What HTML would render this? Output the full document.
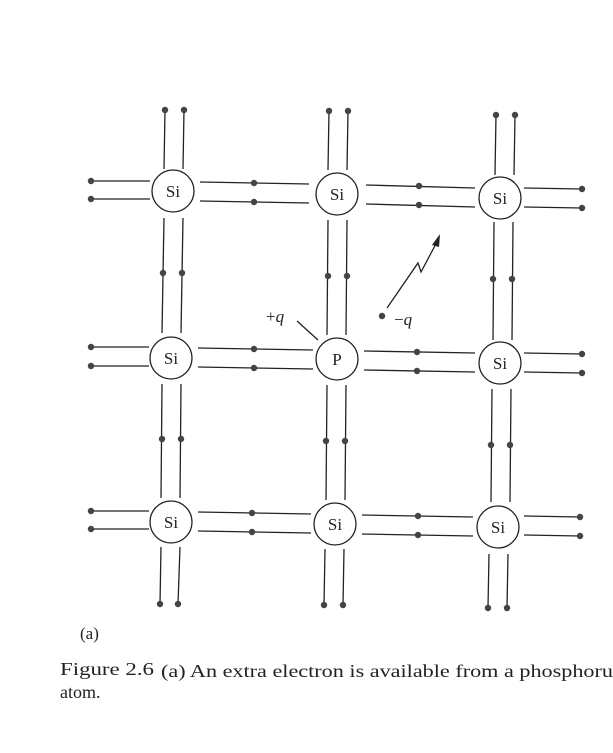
<!DOCTYPE html>
<html><head><meta charset="utf-8"><style>
html,body{margin:0;padding:0;background:#fff;}
svg{display:block}
text{font-family:"Liberation Serif",serif;fill:#222}
</style></head><body>
<svg width="613" height="753" viewBox="0 0 613 753" xmlns="http://www.w3.org/2000/svg">
<g stroke="#222" stroke-width="1.3" fill="none">
<line x1="91" y1="181" x2="150" y2="181"/><line x1="91" y1="199" x2="150" y2="199"/>
<line x1="200" y1="182" x2="309" y2="184"/><line x1="200" y1="201" x2="309" y2="203"/>
<line x1="366" y1="185" x2="475" y2="188"/><line x1="366" y1="204" x2="475" y2="207"/>
<line x1="524" y1="188" x2="582" y2="189"/><line x1="524" y1="207" x2="582" y2="208"/>
<line x1="91" y1="347" x2="149" y2="347"/><line x1="91" y1="366" x2="149" y2="366"/>
<line x1="198" y1="348" x2="313" y2="350"/><line x1="198" y1="367" x2="313" y2="369"/>
<line x1="364" y1="351" x2="475" y2="353"/><line x1="364" y1="370" x2="475" y2="372"/>
<line x1="524" y1="353" x2="582" y2="354"/><line x1="524" y1="372" x2="582" y2="373"/>
<line x1="91" y1="511" x2="149" y2="511"/><line x1="91" y1="529" x2="149" y2="529"/>
<line x1="198" y1="512" x2="311" y2="514"/><line x1="198" y1="531" x2="311" y2="533"/>
<line x1="362" y1="515" x2="473" y2="517"/><line x1="362" y1="534" x2="473" y2="536"/>
<line x1="524" y1="516" x2="580" y2="517"/><line x1="524" y1="535" x2="580" y2="536"/>
<line x1="165" y1="110" x2="164" y2="169"/><line x1="184" y1="110" x2="183" y2="169"/>
<line x1="164" y1="218" x2="162" y2="333"/><line x1="183" y1="218" x2="181" y2="333"/>
<line x1="162" y1="384" x2="161" y2="498"/><line x1="181" y1="384" x2="180" y2="498"/>
<line x1="161" y1="547" x2="160" y2="604"/><line x1="180" y1="547" x2="178" y2="604"/>
<line x1="329" y1="111" x2="328" y2="170"/><line x1="348" y1="111" x2="347" y2="170"/>
<line x1="328" y1="220" x2="327" y2="335"/><line x1="347" y1="220" x2="346" y2="335"/>
<line x1="327" y1="385" x2="326" y2="500"/><line x1="346" y1="385" x2="345" y2="500"/>
<line x1="325" y1="549" x2="324" y2="605"/><line x1="344" y1="549" x2="343" y2="605"/>
<line x1="496" y1="115" x2="495" y2="175"/><line x1="515" y1="115" x2="514" y2="175"/>
<line x1="494" y1="222" x2="493" y2="340"/><line x1="513" y1="222" x2="512" y2="340"/>
<line x1="492" y1="389" x2="491" y2="502"/><line x1="511" y1="389" x2="510" y2="502"/>
<line x1="489" y1="554" x2="488" y2="608"/><line x1="508" y1="554" x2="507" y2="608"/>
<circle cx="173" cy="191" r="21"/><circle cx="337" cy="194" r="21"/><circle cx="500" cy="198" r="21"/>
<circle cx="171" cy="358" r="21"/><circle cx="337" cy="359" r="21"/><circle cx="500" cy="363" r="21"/>
<circle cx="171" cy="522" r="21"/><circle cx="335" cy="524" r="21"/><circle cx="498" cy="527" r="21"/>
<line x1="297" y1="321" x2="318" y2="340"/>
<polyline points="387,308 418,263 421,272 438,240"/>
</g>
<polygon points="440,234 432,245 439,247" fill="#222"/>
<g fill="#444">
<circle cx="91" cy="181" r="3.2"/><circle cx="91" cy="199" r="3.2"/>
<circle cx="254" cy="183" r="3.2"/><circle cx="254" cy="202" r="3.2"/>
<circle cx="419" cy="186" r="3.2"/><circle cx="419" cy="205" r="3.2"/>
<circle cx="582" cy="189" r="3.2"/><circle cx="582" cy="208" r="3.2"/>
<circle cx="91" cy="347" r="3.2"/><circle cx="91" cy="366" r="3.2"/>
<circle cx="254" cy="349" r="3.2"/><circle cx="254" cy="368" r="3.2"/>
<circle cx="417" cy="352" r="3.2"/><circle cx="417" cy="371" r="3.2"/>
<circle cx="582" cy="354" r="3.2"/><circle cx="582" cy="373" r="3.2"/>
<circle cx="91" cy="511" r="3.2"/><circle cx="91" cy="529" r="3.2"/>
<circle cx="252" cy="513" r="3.2"/><circle cx="252" cy="532" r="3.2"/>
<circle cx="418" cy="516" r="3.2"/><circle cx="418" cy="535" r="3.2"/>
<circle cx="580" cy="517" r="3.2"/><circle cx="580" cy="536" r="3.2"/>
<circle cx="165" cy="110" r="3.2"/><circle cx="184" cy="110" r="3.2"/>
<circle cx="329" cy="111" r="3.2"/><circle cx="348" cy="111" r="3.2"/>
<circle cx="496" cy="115" r="3.2"/><circle cx="515" cy="115" r="3.2"/>
<circle cx="163" cy="273" r="3.2"/><circle cx="182" cy="273" r="3.2"/>
<circle cx="328" cy="276" r="3.2"/><circle cx="347" cy="276" r="3.2"/>
<circle cx="493" cy="279" r="3.2"/><circle cx="512" cy="279" r="3.2"/>
<circle cx="162" cy="439" r="3.2"/><circle cx="181" cy="439" r="3.2"/>
<circle cx="326" cy="441" r="3.2"/><circle cx="345" cy="441" r="3.2"/>
<circle cx="491" cy="445" r="3.2"/><circle cx="510" cy="445" r="3.2"/>
<circle cx="160" cy="604" r="3.2"/><circle cx="178" cy="604" r="3.2"/>
<circle cx="324" cy="605" r="3.2"/><circle cx="343" cy="605" r="3.2"/>
<circle cx="488" cy="608" r="3.2"/><circle cx="507" cy="608" r="3.2"/>
<circle cx="382" cy="316" r="3.2"/>
</g>
<g font-size="17" text-anchor="middle">
<text x="173" y="197">Si</text><text x="337" y="200">Si</text><text x="500" y="204">Si</text>
<text x="171" y="364">Si</text><text x="337" y="365">P</text><text x="500" y="369">Si</text>
<text x="171" y="528">Si</text><text x="335" y="530">Si</text><text x="498" y="533">Si</text>
</g>
<text x="266" y="322" font-size="17">+<tspan font-style="italic">q</tspan></text>
<text x="394" y="325" font-size="17">−<tspan font-style="italic">q</tspan></text>
<text x="80" y="639" font-size="17">(a)</text>
<text x="60" y="675" font-size="18" font-family="Liberation Sans, sans-serif" textLength="94" lengthAdjust="spacingAndGlyphs">Figure 2.6</text>
<text x="161" y="677" font-size="18" textLength="452" lengthAdjust="spacingAndGlyphs">(a) An extra electron is available from a phosphoru</text>
<text x="60" y="698" font-size="18">atom.</text>
</svg>
</body></html>
